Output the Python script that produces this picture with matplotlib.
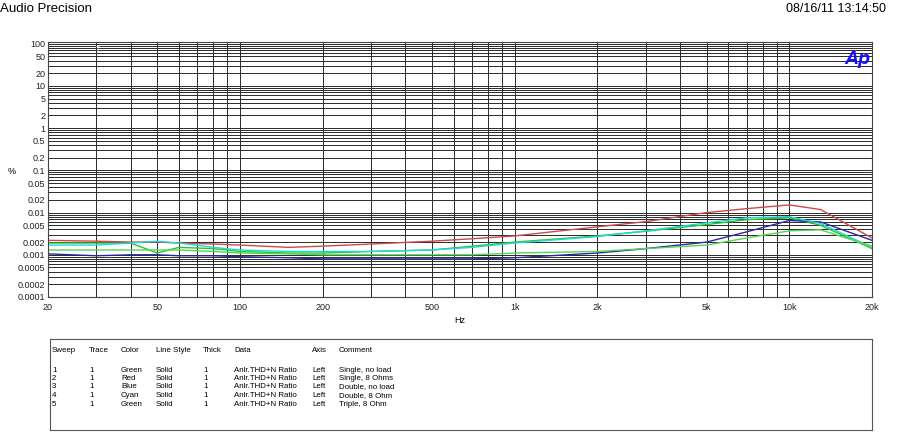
import matplotlib
matplotlib.use("Agg")
import matplotlib.pyplot as plt
from matplotlib.ticker import FixedLocator, NullFormatter, LogLocator

plt.rcParams['font.family'] = ['Liberation Sans', 'DejaVu Sans']

# sweep frequencies (Hz)
freqs = [20, 30, 40, 50, 60, 80, 100, 150, 200, 300, 500, 700,
         1000, 2000, 3000, 5000, 7000, 10000, 13000, 20000]

# THD+N ratio in %
single_no_load = [0.0019, 0.0019, 0.0019, 0.0011, 0.0015, 0.0014, 0.0012, 0.0011, 0.0011, 0.0012,
                  0.0013, 0.0016, 0.0020, 0.0028, 0.0036, 0.0052, 0.0068, 0.0075, 0.0050, 0.0014]
single_8ohm = [0.0022, 0.0021, 0.0020, 0.0020, 0.0019, 0.0018, 0.0017, 0.0015, 0.0016, 0.0018,
               0.0021, 0.0024, 0.0028, 0.0046, 0.0061, 0.0100, 0.0124, 0.0152, 0.0118, 0.0025]
double_no_load = [0.00105, 0.00095, 0.0010, 0.0010, 0.00095, 0.00095, 0.0009, 0.00085, 0.0008, 0.0008,
                  0.0008, 0.0008, 0.00085, 0.0011, 0.0014, 0.0020, 0.0035, 0.0065, 0.0060, 0.0022]
double_8ohm = [0.0017, 0.0017, 0.0019, 0.0021, 0.0019, 0.0015, 0.0013, 0.0012, 0.0012, 0.0012,
               0.0013, 0.0015, 0.0019, 0.0027, 0.0037, 0.0057, 0.0075, 0.0080, 0.0055, 0.0015]
triple_8ohm = [0.0013, 0.0013, 0.0013, 0.0013, 0.0013, 0.0012, 0.0011, 0.00105, 0.0010, 0.0010,
               0.0010, 0.0010, 0.0011, 0.0012, 0.0014, 0.0017, 0.0025, 0.0037, 0.0039, 0.0016]

x_ticks = [20, 50, 100, 200, 500, 1000, 2000, 5000, 10000, 20000]
x_labels = ['20', '50', '100', '200', '500', '1k', '2k', '5k', '10k', '20k']
y_ticks = [100, 50, 20, 10, 5, 2, 1, 0.5, 0.2, 0.1, 0.05, 0.02, 0.01, 0.005,
           0.002, 0.001, 0.0005, 0.0002, 0.0001]
y_labels = ['100', '50', '20', '10', '5', '2', '1', '0.5', '0.2', '0.1', '0.05', '0.02',
            '0.01', '0.005', '0.002', '0.001', '0.0005', '0.0002', '0.0001']

table_header = ['Sweep', 'Trace', 'Color', 'Line Style', 'Thick', 'Data', 'Axis', 'Comment']
table_rows = [
    ['1', '1', 'Green', 'Solid', '1', 'Anlr.THD+N Ratio', 'Left', 'Single, no load'],
    ['2', '1', 'Red', 'Solid', '1', 'Anlr.THD+N Ratio', 'Left', 'Single, 8 Ohms'],
    ['3', '1', 'Blue', 'Solid', '1', 'Anlr.THD+N Ratio', 'Left', 'Double, no load'],
    ['4', '1', 'Cyan', 'Solid', '1', 'Anlr.THD+N Ratio', 'Left', 'Double, 8 Ohm'],
    ['5', '1', 'Green', 'Solid', '1', 'Anlr.THD+N Ratio', 'Left', 'Triple, 8 Ohm'],
]

W, H = 914, 445
fig = plt.figure(figsize=(W / 100, H / 100), dpi=100)

ax = fig.add_axes([48 / W, 1 - 297 / H, (872 - 48) / W, (297 - 42) / H])
ax.set_xscale('log')
ax.set_yscale('log')
ax.set_xlim(20, 20000)
ax.set_ylim(1e-4, 110)

# dense AP-style grid
ax.xaxis.set_minor_locator(LogLocator(base=10, subs=range(2, 10)))
ax.yaxis.set_minor_locator(LogLocator(base=10, subs=range(2, 10), numticks=20))
ax.xaxis.set_minor_formatter(NullFormatter())
ax.yaxis.set_minor_formatter(NullFormatter())
ax.xaxis.set_major_locator(FixedLocator(x_ticks))
ax.set_xticklabels(x_labels)
ax.yaxis.set_major_locator(FixedLocator(y_ticks))
ax.set_yticklabels(y_labels)
ax.grid(True, which='both', color='#2a2a2a', linewidth=0.7)
ax.tick_params(which='both', length=0, labelsize=6.5, colors='#222222', pad=2)
ax.tick_params(axis='x', pad=4)
for s in ax.spines.values():
    s.set_color('#444444')
    s.set_linewidth(0.8)

ax.plot(freqs, single_no_load, color='#30c030', lw=1)
ax.plot(freqs, single_8ohm, color='#d04848', lw=1)
ax.plot(freqs, double_no_load, color='#2828a0', lw=1)
ax.plot(freqs, double_8ohm, color='#20d8d8', lw=1)
ax.plot(freqs, triple_8ohm, color='#50d850', lw=1)

ax.set_xlabel('Hz', fontsize=6.5, labelpad=3)
fig.text(8 / W, 1 - 172 / H, '%', fontsize=6.5, va='center', ha='left')

ax.text(0.998, 0.965, 'Ap', transform=ax.transAxes, color='#1010ff', fontsize=14,
        fontweight='bold', fontstyle='italic', ha='right', va='top')
ax.text(30, 75, 'T', color='white', fontsize=5, ha='left', va='center')

fig.text(0 / W, 1 - 9 / H, 'Audio Precision', fontsize=9.5, va='center', ha='left')
fig.text(886 / W, 1 - 9 / H, '08/16/11 13:14:50', fontsize=9, va='center', ha='right')

# trace table
tab = fig.add_axes([50 / W, 1 - 430 / H, (872 - 50) / W, (430 - 339) / H])
tab.set_xticks([])
tab.set_yticks([])
for s in tab.spines.values():
    s.set_color('#555555')
    s.set_linewidth(0.8)

col_x = [52, 89, 121, 156, 203, 234, 312, 339]
header_y = 351
row_y = [370, 378.5, 387, 395.5, 404]
for cx, txt in zip(col_x, table_header):
    fig.text(cx / W, 1 - header_y / H, txt, fontsize=5.7, va='center', ha='left')
for ry, row in zip(row_y, table_rows):
    for cx, txt in zip(col_x, row):
        fig.text(cx / W, 1 - ry / H, txt, fontsize=5.7, va='center', ha='left')

fig.savefig('out.png', dpi=100)
